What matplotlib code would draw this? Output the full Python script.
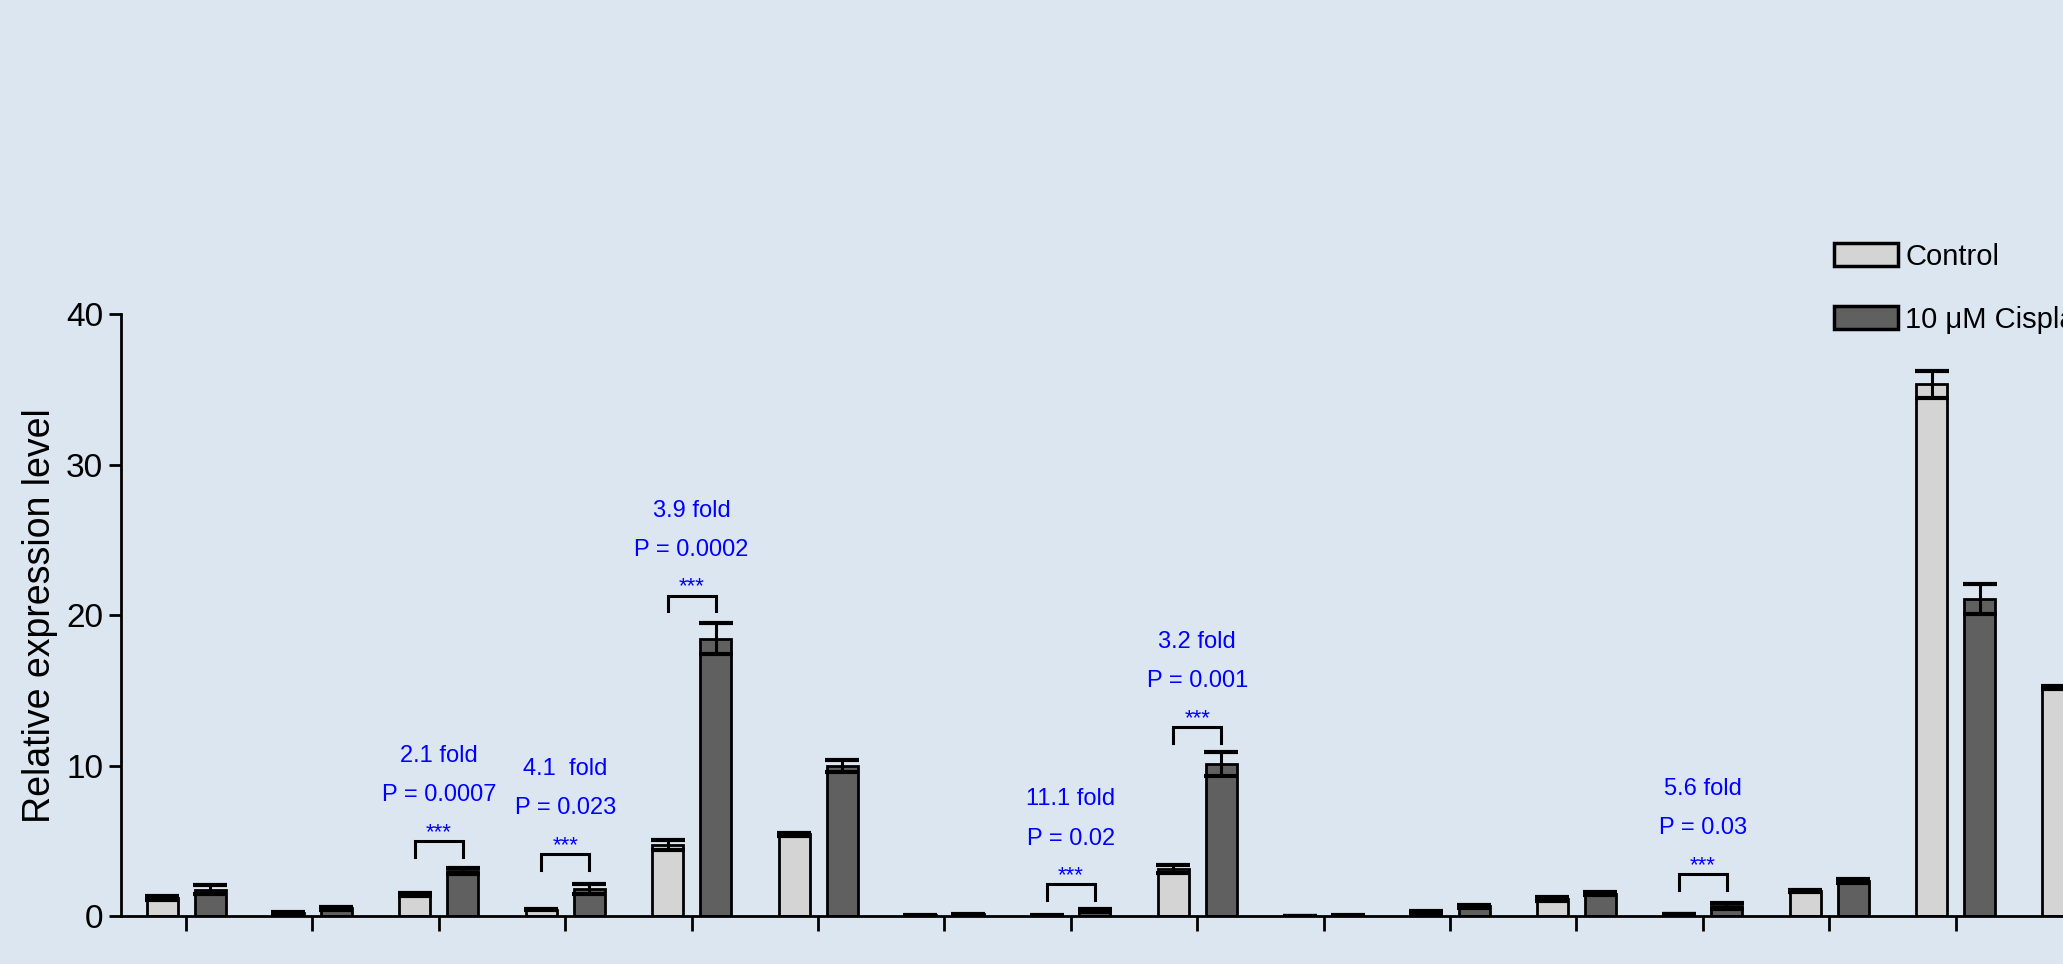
import numpy as np
import matplotlib

matplotlib.use("Agg")
import matplotlib.pyplot as plt
from matplotlib.patches import Patch

# relative expression, control vs cisplatin, one group per gene
control = [1.2, 0.2, 1.43, 0.43, 4.73, 5.45, 0.05, 0.03, 3.12, 0.02, 0.28, 1.12, 0.12, 1.67, 35.35, 15.2]
control_err = [0.15, 0.05, 0.12, 0.05, 0.35, 0.1, 0.02, 0.02, 0.25, 0.01, 0.05, 0.12, 0.02, 0.08, 0.9, 0.1]
cisplatin = [1.75, 0.5, 3.0, 1.78, 18.45, 9.95, 0.1, 0.37, 10.1, 0.04, 0.64, 1.48, 0.68, 2.32, 21.1]
cisplatin_err = [0.3, 0.1, 0.2, 0.35, 1.05, 0.4, 0.03, 0.1, 0.8, 0.02, 0.1, 0.1, 0.2, 0.12, 1.0]

# significance marks: group index, bracket height, fold text, p text
sig_groups = [2, 3, 4, 7, 8, 12]
sig_heights = [5.0, 4.1, 21.3, 2.1, 12.55, 2.8]
sig_fold = ["2.1 fold", "4.1  fold", "3.9 fold", "11.1 fold", "3.2 fold", "5.6 fold"]
sig_p = ["P = 0.0007", "P = 0.023", "P = 0.0002", "P = 0.02", "P = 0.001", "P = 0.03"]

bg = "#dce6f1"
plt.rcParams["font.family"] = ["Liberation Sans Narrow", "Liberation Sans", "DejaVu Sans"]

fig = plt.figure(figsize=(20.63, 9.64), dpi=100, facecolor=bg)
ax = fig.add_axes([0.0587, 0.0498, 0.982, 0.624])
ax.set_facecolor("none")

w = 0.245
off = 0.19
x_c = np.arange(len(control))
x_t = np.arange(len(cisplatin))

ax.bar(x_c - off, control, w, yerr=control_err, color="#d4d4d4", edgecolor="black",
       linewidth=2, zorder=2,
       error_kw=dict(ecolor="black", elinewidth=2.2, capsize=12, capthick=3, zorder=3))
ax.bar(x_t + off, cisplatin, w, yerr=cisplatin_err, color="#606060", edgecolor="black",
       linewidth=2, zorder=2,
       error_kw=dict(ecolor="black", elinewidth=2.2, capsize=12, capthick=3, zorder=3))

for g, h, fold, p in zip(sig_groups, sig_heights, sig_fold, sig_p):
    x0, x1 = g - off, g + off
    ax.plot([x0, x0, x1, x1], [h - 1.05, h, h, h - 1.05], color="black", lw=2.2,
            solid_joinstyle="miter", zorder=4)
    ax.text(g, h + 0.2, "***", color="blue", fontsize=16, ha="center", va="baseline")
    ax.text(g, h + 2.65, p, color="blue", fontsize=17, ha="center", va="baseline")
    ax.text(g, h + 5.25, fold, color="blue", fontsize=17, ha="center", va="baseline")

ax.set_xlim(-0.514, 15.514)
ax.set_ylim(0, 40)
ax.set_yticks([0, 10, 20, 30, 40])
ax.set_xticks(x_c)
ax.set_xticklabels([])
for s in ["top", "right"]:
    ax.spines[s].set_visible(False)
for s in ["left", "bottom"]:
    ax.spines[s].set_linewidth(2)
ax.tick_params(axis="y", length=9, width=2, labelsize=24, pad=4)
ax.tick_params(axis="x", length=11, width=2)
ax.set_ylabel("Relative expression level", fontsize=27, labelpad=6)

handles = [Patch(facecolor="#d4d4d4", edgecolor="black", linewidth=2.5, label="Control"),
           Patch(facecolor="#606060", edgecolor="black", linewidth=2.5, label="10 μM Cisplatin")]
fig.legend(handles=handles, loc="upper left", bbox_to_anchor=(0.889, 0.748), frameon=False,
           fontsize=21, handlelength=2.2, handleheight=0.85, handletextpad=0.25,
           labelspacing=1.2, borderpad=0, borderaxespad=0)

fig.savefig("out.png", dpi=100, facecolor=bg)
